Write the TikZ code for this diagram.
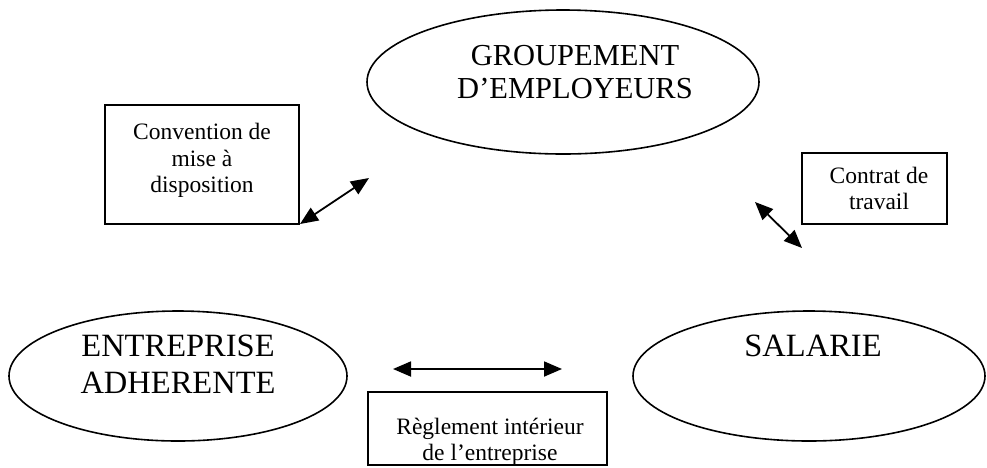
\documentclass[tikz,border=0pt]{standalone}
\usepackage{fontspec}
\setmainfont{Liberation Serif}
\usetikzlibrary{arrows.meta,shapes.geometric}
\tikzset{
  bubble/.style={draw, ellipse, line width=1.6pt, inner sep=0pt},
  box/.style={draw, rectangle, line width=2pt, inner sep=0pt},
  toptext/.style={align=center, font=\fontsize{30.5}{33.5}\selectfont},
  bigtext/.style={align=center, font=\fontsize{32.5}{37}\selectfont},
  smalltext/.style={align=center, font=\fontsize{23.5}{26.5}\selectfont},
  link/.style={{Triangle[length=18pt 0,width=15pt 0]}-{Triangle[length=18pt 0,width=15pt 0]}, line width=1.8pt},
}
\begin{document}
\begin{tikzpicture}[x=1pt,y=-1pt]
  \useasboundingbox (0,0) rectangle (987,467);
  % the three parties
  \draw
    (563,82) node[bubble, minimum width=392pt, minimum height=144pt] (grp){}
    (178,376) node[bubble, minimum width=338pt, minimum height=130pt] (ent){}
    (809,376) node[bubble, minimum width=352pt, minimum height=130pt] (sal){};
  \draw
    (575,72) node[toptext] (grptxt){GROUPEMENT\\D’EMPLOYEURS}
    (178,364) node[bigtext] (enttxt){ENTREPRISE\\ADHERENTE}
    (813,346) node[bigtext] (saltxt){SALARIE};
  % the three documents
  \draw
    (202,164.5) node[box, minimum width=194pt, minimum height=119pt] (conv){}
    (874.5,188.5) node[box, minimum width=145pt, minimum height=71pt] (ctr){}
    (487.5,428.5) node[box, minimum width=239pt, minimum height=73pt] (reg){};
  \draw
    (202,160.5) node[smalltext] (convtxt){Convention de\\mise à\\disposition}
    (879,188.5) node[smalltext] (ctrtxt){Contrat de\\travail}
    (490,442) node[smalltext] (regtxt){Règlement intérieur\\de l’entreprise};
  % arrow ends
  \coordinate (c1) at (300,224);
  \coordinate (c2) at (369,178);
  \coordinate (t1) at (755,202);
  \coordinate (t2) at (802,248);
  \coordinate (r1) at (393,369);
  \coordinate (r2) at (562,369);
  \begin{scope}[link]
    \draw (c1) to (c2);
    \draw (t1) to (t2);
    \draw (r1) to (r2);
  \end{scope}
\end{tikzpicture}
\end{document}
